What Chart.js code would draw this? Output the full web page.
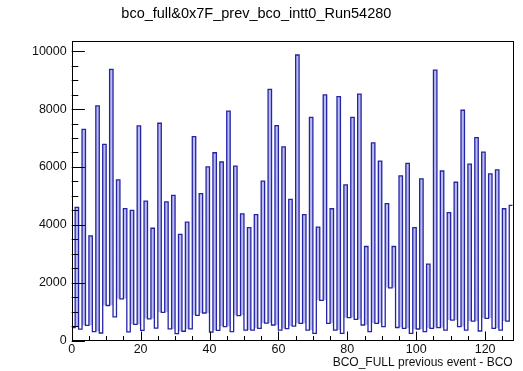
<!DOCTYPE html>
<html><head><meta charset="utf-8">
<script src="https://cdn.jsdelivr.net/npm/chart.js@4.4.1/dist/chart.umd.min.js"></script>
<style>html,body{margin:0;padding:0;background:#fff;}</style>
</head><body>
<canvas id="c" width="523" height="371"></canvas>
<script>
const chartTitle = 'bco_full&0x7F_prev_bco_intt0_Run54280';
const xAxisTitle = 'BCO_FULL previous event - BCO';
// bin contents, bins 0..127 (bin width 1)
const counts = [
  450, 4600, 390, 7300, 520, 3620, 310, 8110, 260, 6780,
  1210, 9370, 820, 5550, 1440, 4560, 300, 4500, 555, 7420,
  350, 4820, 750, 3880, 425, 7510, 975, 4790, 400, 5020,
  240, 3670, 320, 4090, 400, 7050, 870, 5080, 950, 6000,
  290, 6490, 350, 6170, 480, 7930, 305, 6030, 860, 4380,
  362, 3900, 362, 4350, 420, 5510, 600, 8680, 535, 7430,
  362, 6690, 410, 4880, 500, 9870, 590, 4350, 362, 7710,
  247, 3920, 1390, 8490, 592, 4555, 362, 8430, 247, 5380,
  788, 7710, 730, 8520, 535, 3250, 305, 6830, 592, 6200,
  477, 4730, 1820, 3250, 450, 5690, 420, 6120, 247, 3900,
  397, 5590, 305, 2640, 420, 9350, 443, 5860, 362, 4420,
  707, 5470, 477, 7960, 362, 6100, 673, 7010, 328, 6510,
  765, 5760, 420, 5900, 362, 4555, 673, 4670
];
const xRange = [0, 128];
const yRange = [0, 10350];
const xTickLabels = [0, 20, 40, 60, 80, 100, 120];
const yTickLabels = [0, 2000, 4000, 6000, 8000, 10000];
const xMinorStep = 5, yMinorStep = 500;

const lineColor = '#2424a8';
const fillColor = 'rgba(120,120,220,0.5)';
const fontFamily = "'Liberation Sans', Arial, Helvetica, sans-serif";

// outline of histogram: left edge of each bin, plus right edge of last bin
const outline = counts.map((v, i) => ({x: i, y: v}));
outline.push({x: counts.length, y: counts[counts.length - 1]});
// lower boundary of the shaded peak region
const floorVals = counts.map((v, i) => {
  const l = i > 0 ? counts[i - 1] : v;
  const r = i < counts.length - 1 ? counts[i + 1] : v;
  return Math.min(v, Math.max(l, r));
});
const floorPts = floorVals.map((v, i) => ({x: i, y: v}));
floorPts.push({x: counts.length, y: floorVals[floorVals.length - 1]});

const rootAxes = {
  id: 'rootAxes',
  afterDatasetsDraw(chart) {
    const {ctx, chartArea: a, scales: {x, y}} = chart;
    ctx.save();
    ctx.strokeStyle = '#000';
    ctx.lineWidth = 1;
    ctx.strokeRect(Math.round(a.left) + 0.5, Math.round(a.top) + 0.5,
      Math.round(a.right - a.left), Math.round(a.bottom - a.top));
    const yLen = (a.right - a.left) * 0.03;
    for (let v = yRange[0]; v <= yRange[1]; v += yMinorStep) {
      const p = Math.round(y.getPixelForValue(v)) + 0.5;
      const len = (v % 2000 === 0) ? yLen : yLen / 2;
      ctx.beginPath(); ctx.moveTo(a.left, p); ctx.lineTo(a.left + len, p); ctx.stroke();
    }
    const xLen = (a.bottom - a.top) * 0.03;
    for (let v = xRange[0]; v <= xRange[1]; v += xMinorStep) {
      const p = Math.round(x.getPixelForValue(v)) + 0.5;
      const len = (v % 20 === 0) ? xLen : xLen / 2;
      ctx.beginPath(); ctx.moveTo(p, a.bottom); ctx.lineTo(p, a.bottom - len); ctx.stroke();
    }
    ctx.restore();
  }
};

new Chart(document.getElementById('c'), {
  type: 'line',
  data: {
    datasets: [
      {
        data: outline,
        stepped: 'before',
        borderColor: lineColor,
        borderWidth: 1.3,
        pointRadius: 0,
        fill: {target: 1, above: fillColor, below: 'rgba(0,0,0,0)'},
        order: 0
      },
      {
        data: floorPts,
        stepped: 'before',
        borderColor: 'rgba(0,0,0,0)',
        borderWidth: 0,
        pointRadius: 0,
        fill: false,
        order: 1
      }
    ]
  },
  options: {
    responsive: false,
    animation: false,
    devicePixelRatio: 1,
    layout: {padding: {left: 0, right: 10.3, top: 0, bottom: 0}},
    plugins: {
      legend: {display: false},
      tooltip: {enabled: false},
      title: {
        display: true,
        text: chartTitle,
        color: '#000',
        font: {family: fontFamily, size: 14.5, weight: 'normal'},
        padding: {top: 5.5, bottom: 18.2}
      }
    },
    scales: {
      x: {
        type: 'linear',
        min: xRange[0], max: xRange[1],
        grid: {display: false, drawTicks: false},
        border: {display: false},
        afterBuildTicks: s => { s.ticks = xTickLabels.map(v => ({value: v})); },
        afterFit: s => { s.height = 30.5; },
        ticks: {
          color: '#111', padding: 2, maxRotation: 0, autoSkip: false,
          font: {family: fontFamily, size: 12.5},
          callback: v => String(v)
        },
        title: {
          display: true, text: xAxisTitle, align: 'end', color: '#111',
          font: {family: fontFamily, size: 12}, padding: {top: 0, bottom: 1.5}
        }
      },
      y: {
        min: yRange[0], max: yRange[1],
        grid: {display: false, drawTicks: false},
        border: {display: false},
        afterBuildTicks: s => { s.ticks = yTickLabels.map(v => ({value: v})); },
        afterFit: s => { s.width = 71.7; },
        ticks: {
          color: '#111', padding: 5, autoSkip: false,
          font: {family: fontFamily, size: 12.5},
          callback: v => String(v)
        }
      }
    }
  },
  plugins: [rootAxes]
});
</script>
</body></html>
